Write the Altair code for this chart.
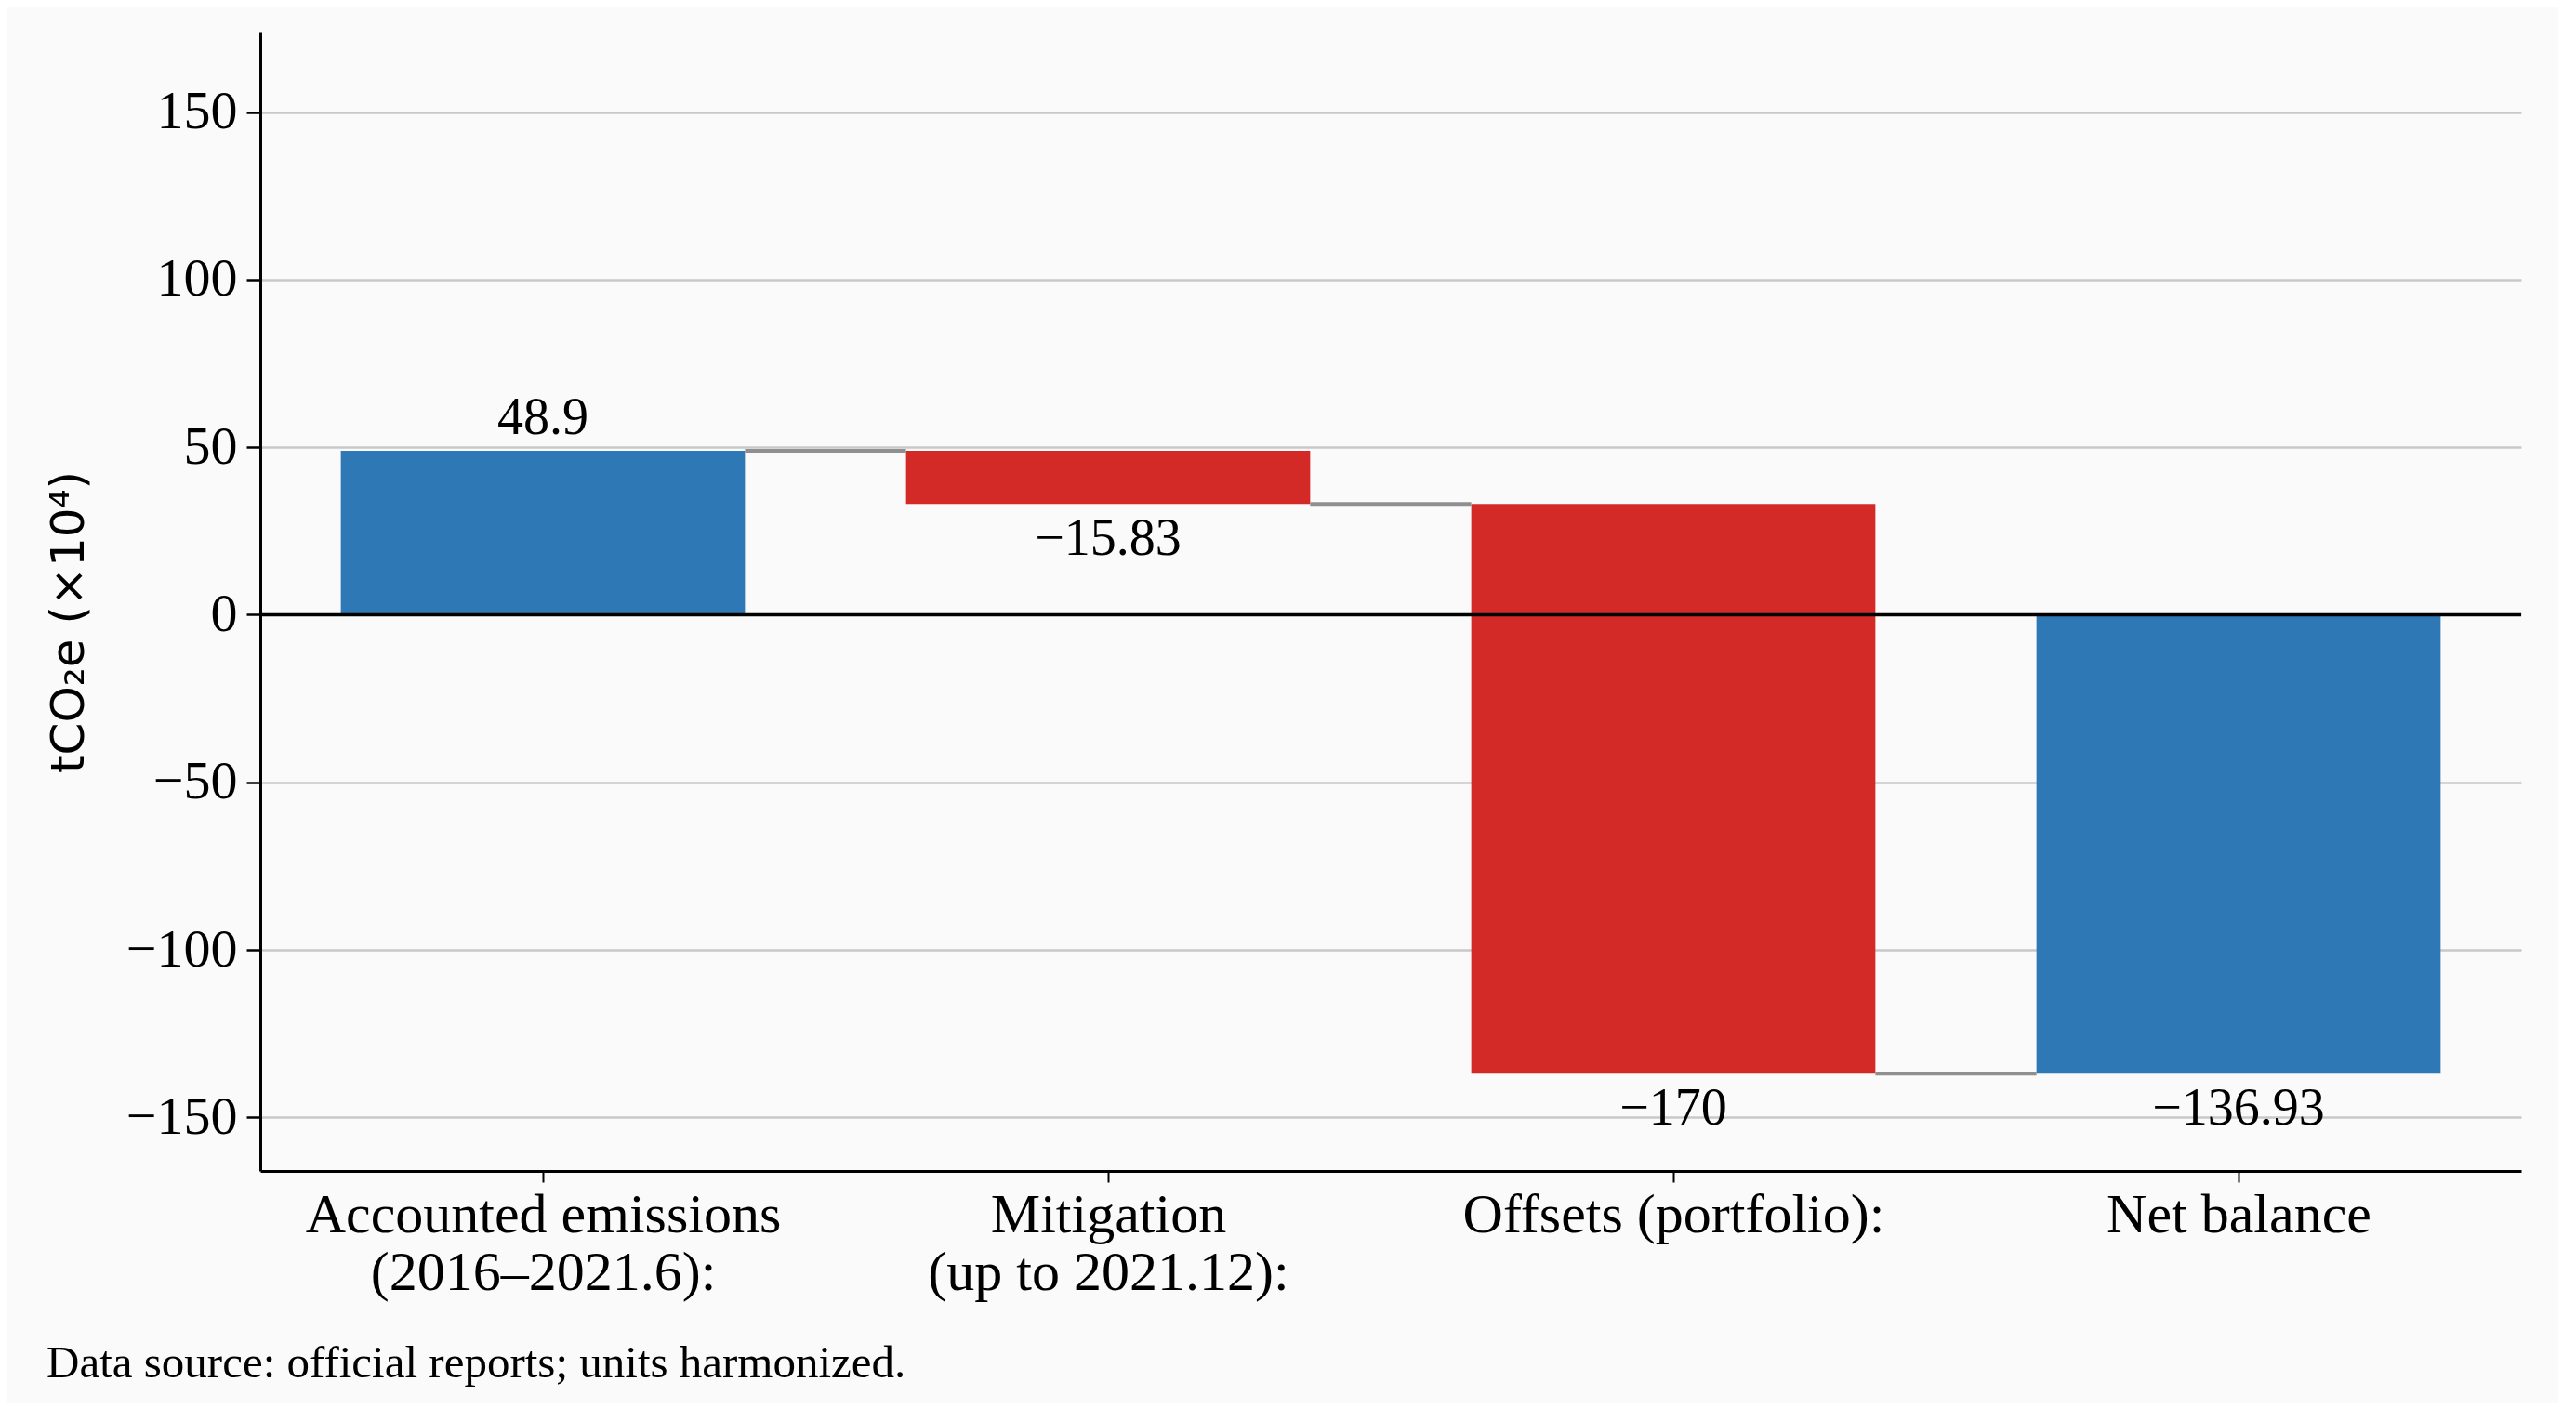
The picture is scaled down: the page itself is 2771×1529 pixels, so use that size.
import json
import altair as alt
import pandas as pd

# ---------------- data ----------------
categories = [
    "Accounted emissions\n(2016–2021.6):",
    "Mitigation\n(up to 2021.12):",
    "Offsets (portfolio):",
    "Net balance",
]
values = [48.9, -15.83, -170, -136.93]
bar_kinds = ["total", "change", "change", "total"]
y_ticks = [-150, -100, -50, 0, 50, 100, 150]
y_domain = [-166, 174]
footnote = "Data source: official reports; units harmonized."
y_title = "tCO\u2082e (\u00d710\u2074)"

# ---------------- style ----------------
BLUE = "#2e78b6"
RED = "#d42a27"
BAR_W = 0.715
SERIF = "Liberation Serif"

rows = []
level = 0.0
for i, (c, v, k) in enumerate(zip(categories, values, bar_kinds)):
    start = 0.0 if k == "total" else level
    end = start + v
    level = end
    rows.append(dict(idx=i, x0=i - BAR_W / 2, x1=i + BAR_W / 2, start=start, end=end,
                     kind=k, label=f"{v:g}".replace("-", "\u2212"), pos=bool(v >= 0)))
bars = pd.DataFrame(rows)
conn = pd.DataFrame([dict(x0=i + BAR_W / 2, x1=i + 1 - BAR_W / 2, y=rows[i]["end"])
                     for i in range(len(rows) - 1)])
zero = pd.DataFrame({"y": [0]})

label_lines = json.dumps([c.split("\n") for c in categories], ensure_ascii=False)

xscale = alt.Scale(domain=[-0.5, len(categories) - 0.5], nice=False, zero=False)
yscale = alt.Scale(domain=y_domain, nice=False, zero=False)

xaxis = alt.Axis(
    values=list(range(len(categories))), labelExpr=f"{label_lines}[datum.value]",
    grid=False, title=None, domainColor="black", domainWidth=3, tickColor="black",
    tickWidth=2, tickSize=12, labelFont=SERIF, labelFontSize=60, labelColor="black",
    labelPadding=6, labelLineHeight=62, labelFlush=False, labelOverlap=False,
    labelLimit=2000)
yaxis = alt.Axis(
    values=y_ticks, format="d", grid=True, gridColor="#c8c8c8", gridWidth=2.5,
    domainColor="black", domainWidth=3, tickColor="black", tickWidth=2.5, tickSize=15,
    labelFont=SERIF, labelFontSize=58, labelColor="black", labelPadding=10,
    labelLimit=1000,
    title=y_title, titleFont="DejaVu Sans", titleFontSize=50, titleFontWeight="normal",
    titleColor="black", titlePadding=36, titleY=635)

base_bars = alt.Chart(bars).mark_rect().encode(
    x=alt.X("x0:Q", scale=xscale, axis=xaxis),
    x2="x1:Q",
    y=alt.Y("start:Q", scale=yscale, axis=yaxis),
    y2="end:Q",
    color=alt.Color("kind:N", scale=alt.Scale(domain=["total", "change"], range=[BLUE, RED]),
                    legend=None),
)

connectors = alt.Chart(conn).mark_rule(color="#8f8f8f", strokeWidth=4).encode(
    x=alt.X("x0:Q", scale=xscale, axis=xaxis),
    x2="x1:Q",
    y=alt.Y("y:Q", scale=yscale, axis=yaxis),
)

zero_line = alt.Chart(zero).mark_rule(color="black", strokeWidth=3.5).encode(
    y=alt.Y("y:Q", scale=yscale, axis=yaxis),
)

labels_pos = alt.Chart(bars).transform_filter("datum.pos").mark_text(
    baseline="alphabetic", dy=-18, font=SERIF, fontSize=56, color="black"
).encode(
    x=alt.X("idx:Q", scale=xscale, axis=xaxis),
    y=alt.Y("end:Q", scale=yscale, axis=yaxis),
    text="label:N",
)
labels_neg = alt.Chart(bars).transform_filter("!datum.pos").mark_text(
    baseline="alphabetic", dy=55, font=SERIF, fontSize=56, color="black"
).encode(
    x=alt.X("idx:Q", scale=xscale, axis=xaxis),
    y=alt.Y("end:Q", scale=yscale, axis=yaxis),
    text="label:N",
)

chart = alt.layer(base_bars, connectors, zero_line, labels_pos, labels_neg).properties(
    width=2432,
    height=1226,
    autosize=alt.AutoSizeParams(type="none"),
    padding={"left": 272, "top": 26, "right": 40, "bottom": 250},
    background="#fafafa",
    title=alt.TitleParams(footnote, orient="bottom", anchor="start", frame="group",
                          dx=-230, offset=44, font=SERIF, fontSize=49,
                          fontWeight="normal", color="black"),
).configure_view(stroke=None)

chart.save("out.html", embed_options={"renderer": "svg", "actions": False})
